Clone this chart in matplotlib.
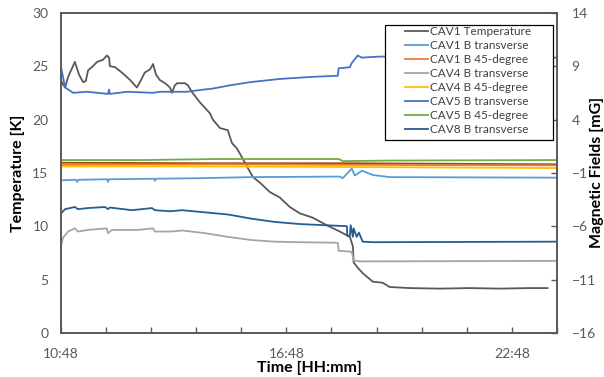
import matplotlib
matplotlib.use('Agg')
import matplotlib.pyplot as plt
from matplotlib.patches import Rectangle
from matplotlib.ticker import FuncFormatter

plt.rcParams['font.family'] = ['Lato', 'DejaVu Sans']

# time in decimal hours of the day
t_temp = [10.80, 10.85, 10.91, 10.99, 11.17, 11.28, 11.39, 11.46, 11.52, 11.65,
          11.76, 11.92, 12.02, 12.08, 12.10, 12.24, 12.42, 12.64, 12.82, 12.93,
          13.03, 13.17, 13.25, 13.33, 13.43, 13.57, 13.70, 13.75, 13.83, 13.89,
          14.10, 14.18, 14.28, 14.50, 14.76, 14.84, 15.03, 15.24, 15.35, 15.48,
          15.61, 15.75, 15.91, 16.09, 16.36, 16.62, 16.89, 17.16, 17.50, 17.87,
          18.22, 18.49, 18.57, 18.59, 18.70, 18.83, 19.10, 19.36, 19.55, 20.08,
          20.88, 21.68, 22.48, 23.27, 23.75]
cav1_temp = [23.7, 23.3, 23.0, 24.0, 25.4, 24.2, 23.5, 23.6, 24.6, 25.0,
             25.4, 25.6, 26.0, 25.8, 25.0, 24.9, 24.4, 23.7, 23.0, 23.7,
             24.4, 24.7, 25.2, 24.2, 23.7, 23.4, 23.0, 22.5, 23.2, 23.4,
             23.4, 23.2, 22.6, 21.6, 20.6, 20.0, 19.2, 19.0, 17.8, 17.3,
             16.5, 15.6, 14.6, 14.1, 13.2, 12.7, 11.8, 11.2, 10.8, 10.1,
             9.5, 9.0, 8.1, 6.6, 6.1, 5.6, 4.8, 4.7, 4.3, 4.2,
             4.15, 4.2, 4.15, 4.2, 4.2]

t_cav1_bt = [10.80, 11.20, 11.23, 11.26, 12.03, 12.05, 12.08, 13.28, 13.30, 13.33,
             14.50, 15.83, 18.22, 18.30, 18.54, 18.62, 18.81, 19.10, 19.55, 24.00]
cav1_bt = [-1.7, -1.65, -1.85, -1.65, -1.6, -1.85, -1.6, -1.55, -1.75, -1.55,
           -1.5, -1.4, -1.35, -1.5, -0.6, -1.25, -0.8, -1.2, -1.4, -1.45]

t_cav1_b45 = [10.80, 15.00, 18.30, 24.00]
cav1_b45 = [-0.25, -0.2, -0.25, -0.3]

t_cav4_bt = [10.80, 10.85, 10.99, 11.17, 11.25, 11.52, 12.02, 12.05, 12.16, 12.85,
             13.25, 13.30, 13.75, 14.02, 14.63, 15.24, 15.88, 16.49, 17.16, 18.17,
             18.19, 18.54, 18.59, 18.75, 24.00]
cav4_bt = [-7.9, -7.1, -6.5, -6.2, -6.5, -6.35, -6.2, -6.65, -6.35, -6.35,
           -6.2, -6.5, -6.5, -6.4, -6.65, -7.0, -7.3, -7.45, -7.5, -7.55,
           -8.3, -8.4, -9.2, -9.3, -9.25]

t_cav4_b45 = [10.80, 15.00, 18.30, 24.00]
cav4_b45 = [-0.4, -0.4, -0.45, -0.55]

t_cav5_bt = [10.80, 10.83, 10.91, 11.04, 11.12, 11.49, 12.05, 12.08, 12.10, 12.56,
             13.25, 13.43, 14.15, 14.58, 14.84, 15.29, 15.83, 16.62, 17.50, 18.17,
             18.19, 18.49, 18.54, 18.70, 18.81, 19.28, 24.00]
cav5_bt = [8.9, 8.4, 7.0, 6.7, 6.5, 6.6, 6.4, 6.8, 6.4, 6.6,
           6.5, 6.6, 6.6, 6.8, 6.9, 7.2, 7.5, 7.8, 8.0, 8.1,
           8.8, 8.9, 9.3, 10.0, 9.8, 9.9, 9.8]

t_cav5_b45 = [10.80, 13.00, 15.00, 18.20, 18.30, 19.50, 24.00]
cav5_b45 = [0.2, 0.2, 0.3, 0.3, 0.1, 0.15, 0.2]

t_cav8_bt = [10.80, 10.91, 11.17, 11.25, 11.52, 11.97, 12.05, 12.10, 12.69, 13.22,
             13.30, 13.70, 14.02, 14.63, 15.24, 15.88, 16.49, 17.16, 18.41, 18.42,
             18.49, 18.51, 18.57, 18.59, 18.67, 18.73, 18.83, 19.10, 24.00]
cav8_bt = [-4.8, -4.4, -4.2, -4.4, -4.3, -4.2, -4.4, -4.25, -4.5, -4.3,
           -4.5, -4.6, -4.5, -4.7, -4.9, -5.3, -5.6, -5.8, -6.0, -6.9,
           -6.9, -5.9, -7.0, -6.2, -7.0, -6.6, -7.45, -7.5, -7.45]

# extra trace without a legend entry (brown)
t_extra = [10.80, 15.00, 18.30, 24.00]
extra_b = [-0.05, -0.1, -0.1, -0.2]

x_major = [10.8, 16.8, 22.8]
x_minor = [10.8 + 1.2 * i for i in range(12)]
temp_ticks = [0, 5, 10, 15, 20, 25, 30]
field_ticks = [-16, -11, -6, -1, 4, 9, 14]


def hhmm(x, pos):
    h = int(x)
    m = int(round((x - h) * 60))
    return f'{h}:{m:02d}'


fig = plt.figure(figsize=(6.04, 3.77), dpi=100)
ax = fig.add_axes([0.101, 0.117, 0.821, 0.849])
ax2 = ax.twinx()

lw = 1.3
l0, = ax.plot(t_temp, cav1_temp, color='#595959', lw=lw, label='CAV1 Temperature')
ax2.plot(t_extra, extra_b, color='#9E480E', lw=lw, label='_nolegend_')
l1, = ax2.plot(t_cav1_bt, cav1_bt, color='#5B9BD5', lw=lw, label='CAV1 B transverse')
l2, = ax2.plot(t_cav1_b45, cav1_b45, color='#ED7D31', lw=lw, label='CAV1 B 45-degree')
l3, = ax2.plot(t_cav4_bt, cav4_bt, color='#A5A5A5', lw=lw, label='CAV4 B transverse')
l4, = ax2.plot(t_cav4_b45, cav4_b45, color='#FFC000', lw=lw, label='CAV4 B 45-degree')
l5, = ax2.plot(t_cav5_bt, cav5_bt, color='#4472C4', lw=lw, label='CAV5 B transverse')
l6, = ax2.plot(t_cav5_b45, cav5_b45, color='#70AD47', lw=lw, label='CAV5 B 45-degree')
l7, = ax2.plot(t_cav8_bt, cav8_bt, color='#255E91', lw=lw, label='CAV8 B transverse')

ax.set_xlim(10.8, 24.0)
ax.set_ylim(0, 30)
ax2.set_ylim(-16, 14)
ax.set_xticks(x_major)
ax.set_xticks(x_minor, minor=True)
ax.xaxis.set_major_formatter(FuncFormatter(hhmm))
ax.set_yticks(temp_ticks)
ax2.set_yticks(field_ticks)

tc = '#595959'
ax.tick_params(axis='x', direction='in', length=4, width=1, colors=tc, labelsize=10, pad=11)
ax.tick_params(axis='x', which='minor', direction='in', length=4, width=1, color=tc)
ax.tick_params(axis='y', length=0, labelcolor=tc, labelsize=10, pad=9)
ax2.tick_params(axis='y', direction='in', length=4, width=1, colors=tc, labelsize=10, pad=10.5)
for a in (ax, ax2):
    for s in a.spines.values():
        s.set_color('#595959')
        s.set_linewidth(1.2)

ax.set_xlabel('Time [HH:mm]', fontsize=11.5, fontweight='bold', va='center')
ax.xaxis.set_label_coords(0.5, -0.109)
ax.set_ylabel('Temperature [K]', fontsize=11.5, fontweight='bold', va='center')
ax.yaxis.set_label_coords(-0.087, 0.5)
ax2.set_ylabel('Magnetic Fields [mG]', fontsize=11.5, fontweight='bold', va='center',
               rotation=90)
ax2.yaxis.set_label_coords(1.08, 0.5)

# legend box
ax2.add_patch(Rectangle((0.653, 0.603), 0.339, 0.3595, transform=ax2.transAxes,
                        facecolor='white', edgecolor='black', lw=0.9, zorder=4,
                        clip_on=False))
leg = ax2.legend(handles=[l0, l1, l2, l3, l4, l5, l6, l7], loc='upper left',
                 bbox_to_anchor=(0.6935, 0.959), borderaxespad=0, borderpad=0,
                 frameon=False, fontsize=8.5, handlelength=1.95, handletextpad=0.15,
                 labelspacing=0.26)
for txt in leg.get_texts():
    txt.set_color('#404040')

fig.savefig('out.png', dpi=100)
